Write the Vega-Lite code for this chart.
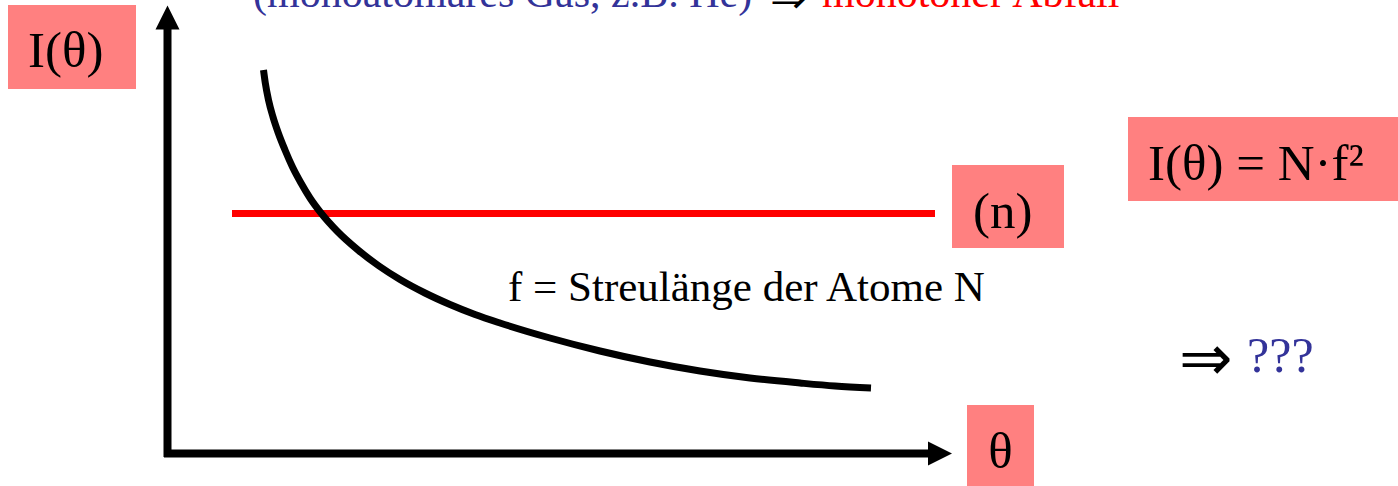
{
  "$schema": "https://vega.github.io/schema/vega-lite/v6.json",
  "width": 1398,
  "height": 486,
  "autosize": {"type": "none"},
  "padding": 0,
  "background": "white",
  "config": {"view": {"stroke": null}, "axis": {"disable": true}, "font": "Liberation Serif"},
  "datasets": {
    "boxes": [
      {"name": "ylabel", "x0": 8, "x1": 136, "y0": 5, "y1": 89},
      {"name": "n", "x0": 952, "x1": 1064, "y0": 165, "y1": 248},
      {"name": "formula", "x0": 1128, "x1": 1398, "y0": 117, "y1": 201},
      {"name": "xlabel", "x0": 967, "x1": 1034, "y0": 405, "y1": 486}
    ],
    "axes": [
      {"name": "y-axis", "x0": 167.5, "x1": 167.5, "y0": 457, "y1": 26},
      {"name": "x-axis", "x0": 164, "x1": 930, "y0": 453.5, "y1": 453.5}
    ],
    "constant": [
      {"name": "(n)", "x0": 232, "x1": 935, "y0": 213.5, "y1": 213.5}
    ],
    "curve": [
      {"theta": 263.5, "I": 70},
      {"theta": 265.3, "I": 83},
      {"theta": 268.5, "I": 100},
      {"theta": 273, "I": 117},
      {"theta": 278.3, "I": 133},
      {"theta": 285, "I": 150},
      {"theta": 292.5, "I": 167},
      {"theta": 301, "I": 183},
      {"theta": 310, "I": 198},
      {"theta": 321, "I": 213},
      {"theta": 337, "I": 231},
      {"theta": 358, "I": 250},
      {"theta": 379, "I": 266},
      {"theta": 400, "I": 279.5},
      {"theta": 425, "I": 293},
      {"theta": 450, "I": 304.5},
      {"theta": 475, "I": 314.5},
      {"theta": 500, "I": 323},
      {"theta": 550, "I": 338},
      {"theta": 600, "I": 351},
      {"theta": 650, "I": 362},
      {"theta": 700, "I": 371},
      {"theta": 750, "I": 378},
      {"theta": 800, "I": 383},
      {"theta": 835, "I": 386},
      {"theta": 871, "I": 388}
    ],
    "heads": [
      {"name": "y-head", "x": 167.5, "y": 17.5},
      {"name": "x-head", "x": 940, "y": 453.5}
    ],
    "bigText": [
      {"label": "I(θ)", "x": 28, "y": 67},
      {"label": "(n)", "x": 973, "y": 228},
      {"label": "I(θ) = N·f²", "x": 1148, "y": 180}
    ],
    "thetaText": [
      {"label": "θ", "x": 1000.5, "y": 468}
    ],
    "midText": [
      {"label": "f = Streulänge der Atome N", "x": 508, "y": 301}
    ],
    "blackArrowText": [
      {"label": "⇒", "x": 1179, "y": 380}
    ],
    "blueQ": [
      {"label": "???", "x": 1247, "y": 372}
    ],
    "topBlue": [
      {"label": "(monoatomares Gas, z.B. He)", "x": 253, "y": 7}
    ],
    "topArrow": [
      {"label": "⇒", "x": 770, "y": 13}
    ],
    "topRed": [
      {"label": "monotoner Abfall", "x": 822, "y": 7}
    ]
  },
  "layer": [
    {
      "data": {"name": "boxes"},
      "mark": {"type": "rect", "fill": "#FF8080", "stroke": null},
      "encoding": {
        "x": {"field": "x0", "type": "quantitative", "scale": {"domain": [0, 1398], "nice": false, "zero": false}},
        "x2": {"field": "x1"},
        "y": {"field": "y0", "type": "quantitative", "scale": {"domain": [0, 486], "nice": false, "zero": false, "reverse": true}},
        "y2": {"field": "y1"}
      }
    },
    {
      "data": {"name": "axes"},
      "mark": {"type": "rule", "color": "black", "strokeWidth": 8, "strokeCap": "butt"},
      "encoding": {
        "x": {"field": "x0", "type": "quantitative"},
        "x2": {"field": "x1"},
        "y": {"field": "y0", "type": "quantitative"},
        "y2": {"field": "y1"}
      }
    },
    {
      "data": {"name": "heads"},
      "transform": [{"filter": "datum.name == 'y-head'"}],
      "mark": {"type": "point", "shape": "M0,-1L1,1L-1,1Z", "filled": true, "fill": "black", "opacity": 1, "size": 576, "strokeWidth": 0},
      "encoding": {
        "x": {"field": "x", "type": "quantitative"},
        "y": {"field": "y", "type": "quantitative"}
      }
    },
    {
      "data": {"name": "heads"},
      "transform": [{"filter": "datum.name == 'x-head'"}],
      "mark": {"type": "point", "shape": "M1,0L-1,1L-1,-1Z", "filled": true, "fill": "black", "opacity": 1, "size": 576, "strokeWidth": 0},
      "encoding": {
        "x": {"field": "x", "type": "quantitative"},
        "y": {"field": "y", "type": "quantitative"}
      }
    },
    {
      "data": {"name": "constant"},
      "mark": {"type": "rule", "color": "#FF0000", "strokeWidth": 7, "strokeCap": "butt"},
      "encoding": {
        "x": {"field": "x0", "type": "quantitative"},
        "x2": {"field": "x1"},
        "y": {"field": "y0", "type": "quantitative"},
        "y2": {"field": "y1"}
      }
    },
    {
      "data": {"name": "curve"},
      "mark": {"type": "line", "color": "black", "strokeWidth": 7, "interpolate": "monotone", "strokeCap": "butt"},
      "encoding": {
        "x": {"field": "theta", "type": "quantitative"},
        "y": {"field": "I", "type": "quantitative"}
      }
    },
    {
      "data": {"name": "bigText"},
      "mark": {"type": "text", "align": "left", "baseline": "alphabetic", "fontSize": 51, "font": "Liberation Serif", "color": "black"},
      "encoding": {
        "x": {"field": "x", "type": "quantitative"},
        "y": {"field": "y", "type": "quantitative"},
        "text": {"field": "label"}
      }
    },
    {
      "data": {"name": "thetaText"},
      "mark": {"type": "text", "align": "center", "baseline": "alphabetic", "fontSize": 51, "font": "Liberation Serif", "color": "black"},
      "encoding": {
        "x": {"field": "x", "type": "quantitative"},
        "y": {"field": "y", "type": "quantitative"},
        "text": {"field": "label"}
      }
    },
    {
      "data": {"name": "midText"},
      "mark": {"type": "text", "align": "left", "baseline": "alphabetic", "fontSize": 43, "font": "Liberation Serif", "color": "black"},
      "encoding": {
        "x": {"field": "x", "type": "quantitative"},
        "y": {"field": "y", "type": "quantitative"},
        "text": {"field": "label"}
      }
    },
    {
      "data": {"name": "blackArrowText"},
      "mark": {"type": "text", "align": "left", "baseline": "alphabetic", "fontSize": 64, "font": "Liberation Serif", "color": "black"},
      "encoding": {
        "x": {"field": "x", "type": "quantitative"},
        "y": {"field": "y", "type": "quantitative"},
        "text": {"field": "label"}
      }
    },
    {
      "data": {"name": "blueQ"},
      "mark": {"type": "text", "align": "left", "baseline": "alphabetic", "fontSize": 50, "font": "Liberation Serif", "color": "#333399"},
      "encoding": {
        "x": {"field": "x", "type": "quantitative"},
        "y": {"field": "y", "type": "quantitative"},
        "text": {"field": "label"}
      }
    },
    {
      "data": {"name": "topBlue"},
      "mark": {"type": "text", "align": "left", "baseline": "alphabetic", "fontSize": 42, "font": "Liberation Serif", "color": "#333399"},
      "encoding": {
        "x": {"field": "x", "type": "quantitative"},
        "y": {"field": "y", "type": "quantitative"},
        "text": {"field": "label"}
      }
    },
    {
      "data": {"name": "topArrow"},
      "mark": {"type": "text", "align": "left", "baseline": "alphabetic", "fontSize": 44, "font": "Liberation Serif", "color": "black"},
      "encoding": {
        "x": {"field": "x", "type": "quantitative"},
        "y": {"field": "y", "type": "quantitative"},
        "text": {"field": "label"}
      }
    },
    {
      "data": {"name": "topRed"},
      "mark": {"type": "text", "align": "left", "baseline": "alphabetic", "fontSize": 42, "font": "Liberation Serif", "color": "#FF0000"},
      "encoding": {
        "x": {"field": "x", "type": "quantitative"},
        "y": {"field": "y", "type": "quantitative"},
        "text": {"field": "label"}
      }
    }
  ]
}
